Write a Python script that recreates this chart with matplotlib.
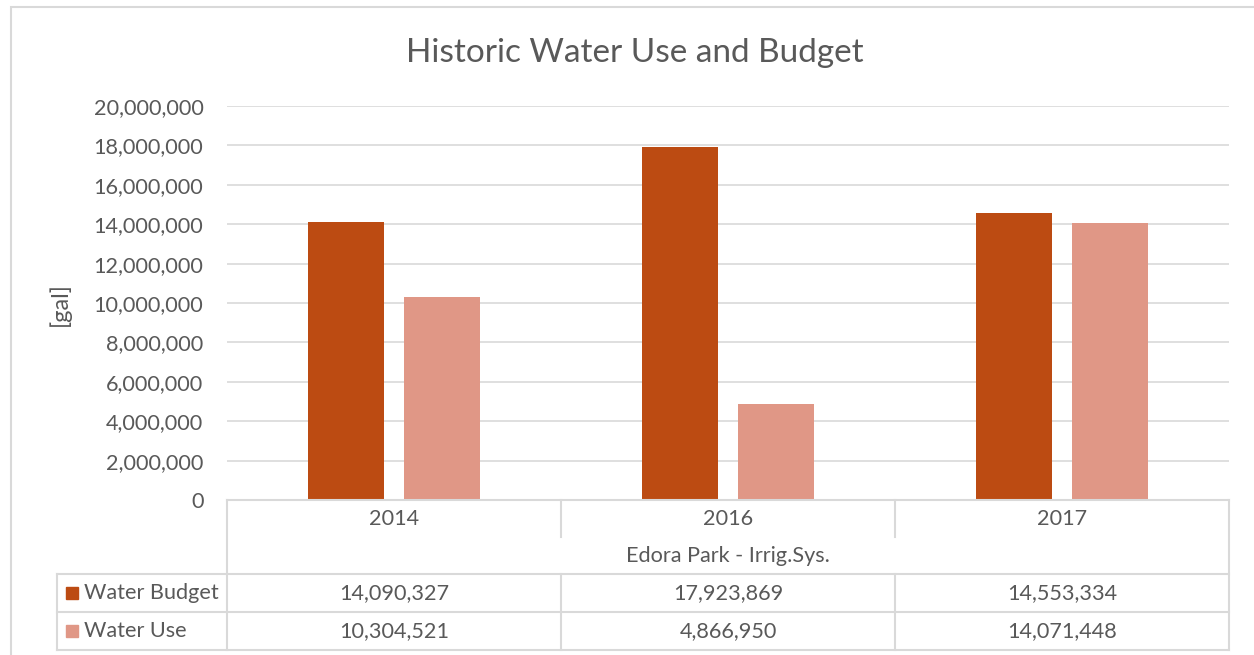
import matplotlib.pyplot as plt
from matplotlib.lines import Line2D
from matplotlib.patches import Rectangle

# chart values
years = ['2014', '2016', '2017']
group_label = 'Edora Park - Irrig.Sys.'
series_names = ['Water Budget', 'Water Use']
water_budget = [14090327, 17923869, 14553334]
water_use = [10304521, 4866950, 14071448]
yticks = list(range(0, 20000001, 2000000))

c_budget = '#BC4B12'
c_use = '#E09786'
txt = '#595959'
grid = '#D9D9D9'
fs = 15.6

plt.rcParams['font.family'] = ['Lato', 'DejaVu Sans']

W, H = 1254, 655
fig = plt.figure(figsize=(W / 100, H / 100), dpi=100)


def fx(x):
    return x / W


def fy(y):
    return 1 - y / H


# plot area
left, right, top, bottom = 227, 1229, 106, 500
ax = fig.add_axes([fx(left), fy(bottom), fx(right - left), (bottom - top) / H])
ax.set_xlim(0, len(years))
ax.set_ylim(0, 20000000)

bw = 0.2246
off = 0.1437
for i in range(len(years)):
    ax.bar(i + 0.5 - off, water_budget[i], width=bw, color=c_budget)
    ax.bar(i + 0.5 + off, water_use[i], width=bw, color=c_use)

ax.set_yticks(yticks)
ax.set_yticklabels([f'{v:,}' for v in yticks], color=txt, fontsize=fs)
ax.tick_params(axis='y', length=0, pad=17)
ax.set_xticks([])
ax.grid(axis='y', color=grid, lw=1.2)
ax.set_axisbelow(True)
for s in ax.spines.values():
    s.set_visible(False)

fig.text(fx(635), fy(53), 'Historic Water Use and Budget', ha='center', va='center',
         fontsize=24, color=txt)
fig.text(fx(60), fy(304), '[gal]', rotation=90, ha='center', va='center',
         fontsize=17, color=txt)

# outer chart border
fig.add_artist(Rectangle((fx(11), fy(700)), fx(1260), (700 - 7) / H, transform=fig.transFigure,
                         fill=False, ec=grid, lw=1.5))


def hline(x0, x1, y):
    fig.add_artist(Line2D([fx(x0), fx(x1)], [fy(y), fy(y)], color=grid, lw=1.5))


def vline(x, y0, y1):
    fig.add_artist(Line2D([fx(x), fx(x)], [fy(y0), fy(y1)], color=grid, lw=1.5))


# data table under the axis
col_w = (right - left) / len(years)
hline(left, right, 500)
hline(57, right, 574)
hline(57, right, 612)
hline(57, right, 650)
vline(left, 500, 650)
vline(right, 500, 650)
vline(57, 574, 650)
for i in range(1, len(years)):
    vline(left + i * col_w, 500, 537)
    vline(left + i * col_w, 574, 650)

for i, yr in enumerate(years):
    cx = left + (i + 0.5) * col_w
    fig.text(fx(cx), fy(519), yr, ha='center', va='center', fontsize=fs, color=txt)
    fig.text(fx(cx), fy(593), f'{water_budget[i]:,}', ha='center', va='center',
             fontsize=fs, color=txt)
    fig.text(fx(cx), fy(631), f'{water_use[i]:,}', ha='center', va='center',
             fontsize=fs, color=txt)
fig.text(fx((left + right) / 2), fy(556), group_label, ha='center', va='center',
         fontsize=fs, color=txt)

for name, col, yc in zip(series_names, [c_budget, c_use], [593, 631]):
    fig.add_artist(Rectangle((fx(66), fy(yc + 6)), fx(12), 12 / H, transform=fig.transFigure,
                             color=col))
    fig.text(fx(84), fy(yc), name, ha='left', va='center', fontsize=fs, color=txt)

fig.savefig('out.png', dpi=100, facecolor='white')
